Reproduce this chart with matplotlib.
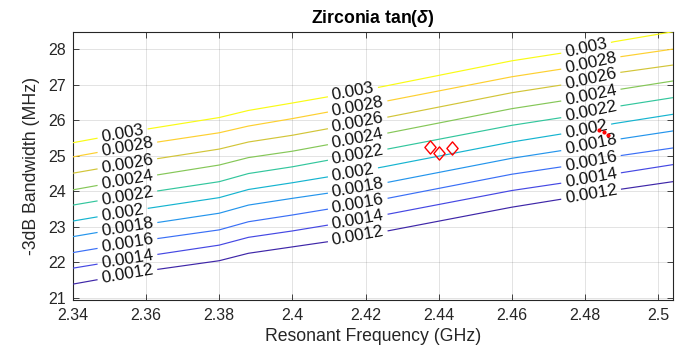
import numpy as np
import matplotlib
matplotlib.use("Agg")
import matplotlib.pyplot as plt
from matplotlib.colors import LinearSegmentedColormap
from matplotlib.path import Path

# Resonant frequency nodes (GHz) shared by all iso-loss-tangent curves
freq = [2.34, 2.36, 2.38, 2.388, 2.40, 2.41, 2.425, 2.46, 2.475, 2.488, 2.504]

# -3 dB bandwidth (MHz) along each tan(delta) contour
bw_t0012 = [21.38, 21.75, 22.04, 22.25, 22.43, 22.58, 22.86, 23.55, 23.80, 24.03, 24.27]
bw_t0014 = [21.83, 22.17, 22.48, 22.70, 22.88, 23.05, 23.33, 24.02, 24.25, 24.49, 24.75]
bw_t0016 = [22.27, 22.62, 22.91, 23.14, 23.33, 23.50, 23.78, 24.48, 24.71, 24.98, 25.22]
bw_t0018 = [22.72, 23.07, 23.38, 23.61, 23.80, 23.95, 24.23, 24.93, 25.17, 25.45, 25.70]
bw_t0020 = [23.16, 23.51, 23.82, 24.05, 24.24, 24.41, 24.69, 25.39, 25.64, 25.91, 26.17]
bw_t0022 = [23.61, 23.96, 24.27, 24.50, 24.69, 24.88, 25.17, 25.86, 26.10, 26.38, 26.64]
bw_t0024 = [24.04, 24.41, 24.74, 24.95, 25.13, 25.32, 25.62, 26.33, 26.57, 26.85, 27.11]
bw_t0026 = [24.51, 24.87, 25.19, 25.39, 25.58, 25.77, 26.07, 26.78, 27.02, 27.33, 27.56]
bw_t0028 = [24.97, 25.34, 25.65, 25.84, 26.05, 26.24, 26.53, 27.23, 27.47, 27.77, 28.01]
bw_t0030 = [25.37, 25.75, 26.08, 26.28, 26.49, 26.67, 26.96, 27.68, 27.92, 28.22, 28.50]

levels = [0.0012, 0.0014, 0.0016, 0.0018, 0.0020, 0.0022, 0.0024, 0.0026, 0.0028, 0.0030]
level_labels = ["0.0012", "0.0014", "0.0016", "0.0018", "0.002",
                "0.0022", "0.0024", "0.0026", "0.0028", "0.003"]
contours = [bw_t0012, bw_t0014, bw_t0016, bw_t0018, bw_t0020,
            bw_t0022, bw_t0024, bw_t0026, bw_t0028, bw_t0030]

# frequencies where the rows of contour labels start
label_starts = [2.3478, 2.4108, 2.4746]

# measured samples
meas_f = [2.4376, 2.4401, 2.4437]
meas_bw = [25.24, 25.09, 25.21]
sim_f = [2.4839, 2.4851, 2.4864]
sim_bw = [25.73, 25.68, 25.60]

xticks = [2.34, 2.36, 2.38, 2.40, 2.42, 2.44, 2.46, 2.48, 2.50]
yticks = [21, 22, 23, 24, 25, 26, 27, 28]

plt.rcParams['font.family'] = ['Liberation Sans', 'DejaVu Sans']
plt.rcParams['mathtext.fontset'] = 'custom'
plt.rcParams['mathtext.it'] = 'Liberation Sans:italic:bold'
plt.rcParams['mathtext.rm'] = 'Liberation Sans:bold'

parula = LinearSegmentedColormap.from_list("parula", [
    (0.2422, 0.1504, 0.6603), (0.2810, 0.3228, 0.9579), (0.1786, 0.5289, 0.9682),
    (0.0689, 0.6948, 0.8394), (0.2161, 0.7843, 0.5923), (0.6720, 0.7793, 0.2227),
    (0.9970, 0.7659, 0.2199), (0.9769, 0.9839, 0.0805)])

ink = '#262626'
fig = plt.figure(figsize=(6.82, 3.53), dpi=100)
ax = fig.add_axes([0.107, 0.150, 0.8793, 0.760])
ax.set_xlim(2.34, 2.504)
ax.set_ylim(20.93, 28.5)
ax.set_xticks(xticks)
ax.set_yticks(yticks)
ax.xaxis.set_major_formatter(plt.FuncFormatter(lambda v, p: f"{v:g}"))
ax.tick_params(direction='in', length=4, width=0.6, top=True, right=True,
               colors=ink, labelsize=11.5, pad=5)
ax.tick_params(axis='x', pad=6)
for s in ax.spines.values():
    s.set_color(ink)
    s.set_linewidth(0.8)
ax.set_axisbelow(True)
ax.grid(True, color=ink, alpha=0.15, linewidth=0.6)

renderer = fig.canvas.get_renderer()
to_data = ax.transData.inverted()
gap_px = 4.5
lo, hi = ax.get_xlim()

vmin, vmax = min(levels), max(levels)
for lev, lab, bw in zip(levels, level_labels, contours):
    color = parula((lev - vmin) / (vmax - vmin))
    gaps = []
    for x0 in label_starts:
        y0 = np.interp(x0, freq, bw)
        t = ax.text(x0, y0, lab, fontsize=12.4, color='#111111',
                    ha='left', va='center', rotation_mode='anchor', zorder=5)
        w = t.get_window_extent(renderer).width
        p0 = ax.transData.transform((x0, y0))
        x_end = to_data.transform((p0[0] + w, p0[1]))[0]
        p1 = ax.transData.transform((x_end, np.interp(x_end, freq, bw)))
        ang = np.arctan2(p1[1] - p0[1], p1[0] - p0[0])
        t.set_rotation(np.degrees(ang))
        a = to_data.transform((p0[0] - gap_px, p0[1]))[0]
        b = to_data.transform((p0[0] + w * np.cos(ang) + gap_px, p0[1]))[0]
        gaps.append((a, b))
    edges = [lo] + [e for g in sorted(gaps) for e in g] + [hi]
    for a, b in zip(edges[0::2], edges[1::2]):
        xs = [a] + [f for f in freq if a < f < b] + [b]
        ax.plot(xs, np.interp(xs, freq, bw), color=color, lw=0.85, zorder=3)

diamond = Path([(0, 1), (0.85, 0), (0, -1), (-0.85, 0), (0, 1)],
               [Path.MOVETO, Path.LINETO, Path.LINETO, Path.LINETO, Path.CLOSEPOLY])
ax.plot(meas_f, meas_bw, linestyle='none', marker=diamond, markersize=9.5,
        markerfacecolor='none', markeredgecolor='red', markeredgewidth=1.0, zorder=6)
ax.plot(sim_f, sim_bw, linestyle='none', marker='o', markersize=2.0,
        color='red', zorder=6)

ax.set_xlabel("Resonant Frequency (GHz)", fontsize=12.7, color=ink, labelpad=3)
ax.set_ylabel("-3dB Bandwidth (MHz)", fontsize=12.7, color=ink, labelpad=6)
ax.set_title(r"Zirconia tan($\delta$)", fontsize=12.7, fontweight='bold',
             color='black', pad=6)

fig.savefig("out.png", dpi=100)
